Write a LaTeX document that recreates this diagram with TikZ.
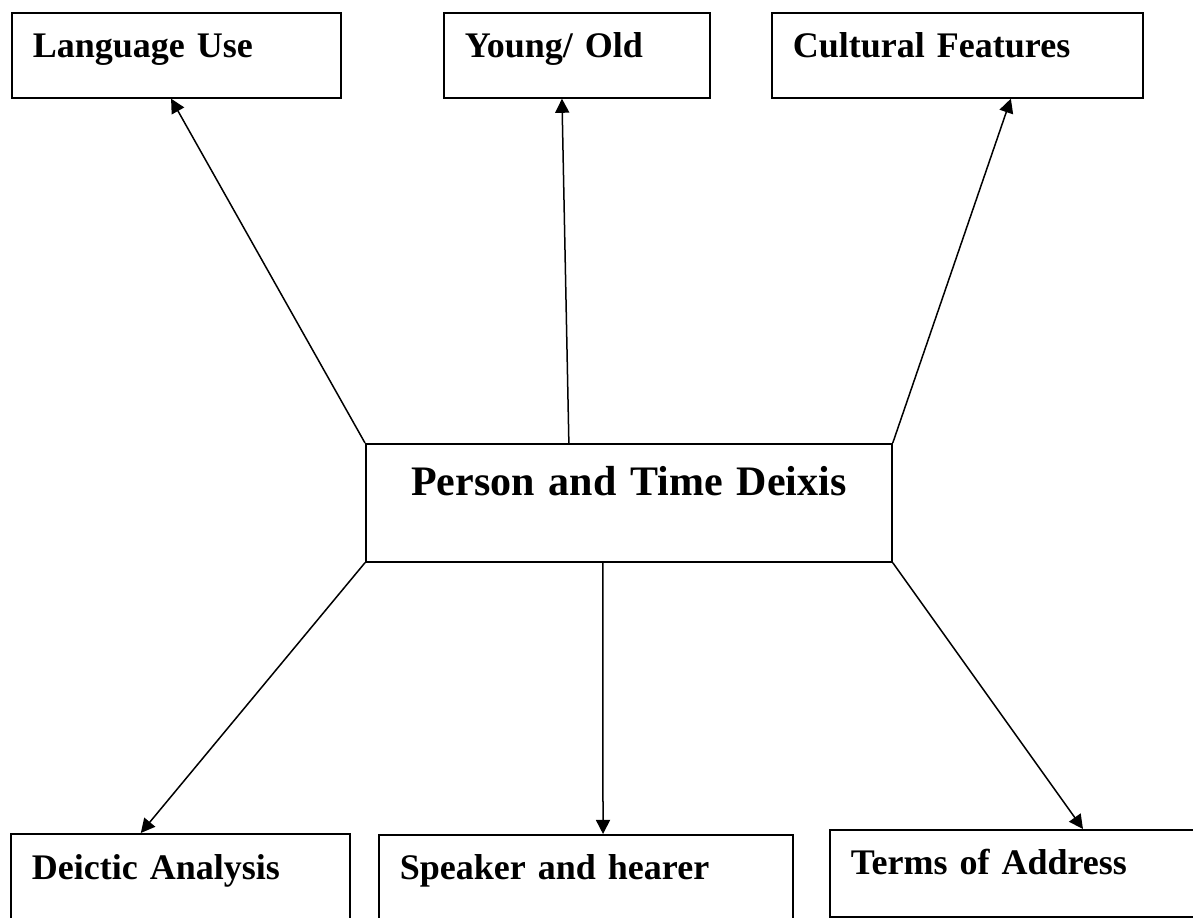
\documentclass[tikz,border=0pt]{standalone}
\usepackage{fontspec}
\setmainfont{Liberation Serif}
\usetikzlibrary{arrows.meta}
\tikzset{
  box/.style={draw, line width=0.6pt, rectangle, anchor=north west,
    inner sep=0pt, inner xsep=7pt, text height=15pt, align=left,
    font=\bfseries\fontsize{12}{14}\selectfont},
}
\begin{document}
\begin{tikzpicture}[x=0.3333pt, y=-0.3333pt]
      \useasboundingbox (0,0) rectangle (1193,918);
      \clip (0,0) rectangle (1193,918);
      \draw
        (11,12) node[box, text width=95.7pt, text depth=13.3pt] (lang){Language Use}
        (443,12) node[box, text width=74.7pt, text depth=13.3pt] (young){Young/ Old}
        (771,12) node[box, text width=109.7pt, text depth=13.3pt] (cult){Cultural Features}
        (365,443) node[box, align=center, text width=161.3pt, text height=17.3pt,
          text depth=22pt, font=\bfseries\fontsize{14}{17}\selectfont] (deixis){Person and Time Deixis}
        (10,833) node[box, text width=99pt, text height=15.3pt, text depth=20pt] (deictic){Deictic Analysis}
        (378,834) node[box, text width=124pt, text height=15pt, text depth=20pt] (speaker){Speaker and hearer}
        (829,829) node[box, text width=119.3pt, text depth=14pt] (terms){Terms of Address};
      \begin{scope}[-{Triangle[length=4.7pt,width=4.7pt]}, line width=0.5pt]
        \draw (deixis.north west) to ([xshift=-1.8pt]lang.south);
        \draw ([xshift=-20pt]deixis.north) to ([xshift=-5pt]young.south);
        \draw (deixis.north east) to ([xshift=17.8pt]cult.south);
        \draw (deixis.south west) to ([xshift=-13.2pt]deictic.north);
        \draw ([xshift=-8.7pt]deixis.south) to ([xshift=5.7pt]speaker.north);
        \draw (deixis.south east) to ([xshift=17.7pt]terms.north);
      \end{scope}
    \end{tikzpicture}
\end{document}
